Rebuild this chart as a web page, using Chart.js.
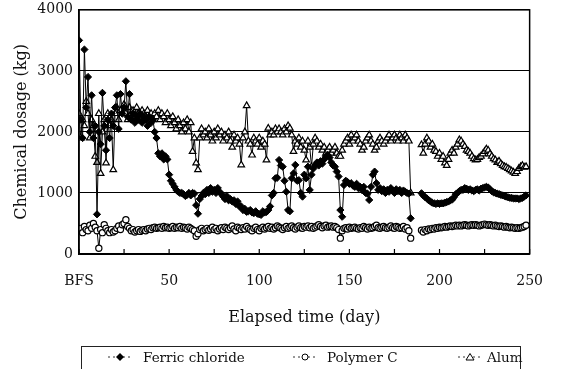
<!DOCTYPE html>
<html>
<head>
<meta charset="utf-8">
<script src="https://cdn.jsdelivr.net/npm/chart.js@4.4.0/dist/chart.umd.min.js"></script>
<style>
  html, body { margin: 0; padding: 0; background: #fff; }
  #wrap { position: relative; width: 562px; height: 369px; overflow: hidden; }
  #legend { position: absolute; left: 81px; top: 346px; width: 438px; height: 40px;
            border: 1px solid #222; font-family: 'DejaVu Serif', serif; font-size: 13.5px; color: #111; }
  #legend span, #legend svg { position: absolute; }
  #legend span { line-height: 14px; white-space: nowrap; }
</style>
</head>
<body>
<div id="wrap">
  <canvas id="myChart" width="562" height="369"></canvas>
  <div id="legend"></div>
</div>
<script>
// days 0..248, no readings for days 185-189
const days = Array.from({length: 249}, (_, i) => i);

const ferric = [
  3500, 2200, 1900, 3350, 2400, 2900, 2000, 2600, 1900, 2100,
  650, 2000, 1800, 2640, 2100, 1700, 2200, 1900, 2300, 2100,
  2400, 2600, 2050, 2620, 2300, 2400, 2830, 2250, 2620, 2200,
  2300, 2150, 2250, 2200, 2300, 2150, 2250, 2200, 2100, 2250,
  2150, 2200, 2000, 1900, 1650, 1600, 1650, 1550, 1600, 1550,
  1300, 1200, 1150, 1100, 1050, 1020, 1000, 1000, 980, 950,
  970, 1000, 960, 1000, 990, 800, 660, 900, 950, 1000,
  980, 1050, 1000, 1080, 1020, 1050, 1000, 1080, 1020, 980,
  940, 900, 950, 880, 900, 860, 880, 820, 860, 780,
  780, 720, 740, 690, 700, 720, 680, 670, 700, 660,
  650, 640, 700, 680, 690, 720, 780, 960, 1000, 1240,
  1250, 1540, 1450, 1430, 1200, 1020, 720, 700, 1240, 1320,
  1460, 1200, 1210, 1000, 940, 1300, 1240, 1430, 1050, 1300,
  1400, 1450, 1500, 1450, 1520, 1480, 1550, 1600, 1620, 1580,
  1500, 1450, 1430, 1350, 1270, 720, 610, 1130, 1200, 1180,
  1150, 1160, 1120, 1100, 1150, 1080, 1100, 1050, 1100, 1000,
  990, 885, 1100, 1300, 1350, 1160, 1050, 1080, 1030, 1060,
  1000, 1050, 1020, 1080, 1040, 1000, 1060, 1030, 1050, 1000,
  1040, 1020, 1000, 990, 585, null, null, null, null, null,
  995, 960, 930, 910, 880, 860, 840, 830, 820, 830,
  820, 830, 830, 840, 850, 860, 880, 890, 930, 980,
  1000, 1030, 1050, 1050, 1080, 1070, 1050, 1060, 1040, 1030,
  1050, 1060, 1040, 1070, 1080, 1090, 1100, 1090, 1060, 1030,
  1010, 1000, 990, 980, 970, 960, 950, 940, 930, 920,
  920, 910, 910, 910, 900, 910, 920, 940, 960
];

const polymer = [
  380, 420, 350, 450, 400, 380, 470, 420, 500, 440,
  380, 95, 400, 350, 480, 420, 380, 350, 400, 360,
  380, 420, 460, 400, 480, 500, 560, 450, 420, 380,
  400, 360, 380, 400, 370, 390, 400, 380, 410, 420,
  400, 430, 440, 420, 430, 440, 420, 450, 430, 440,
  420, 430, 450, 420, 440, 430, 450, 420, 440, 430,
  410, 440, 420, 400, 380, 290, 330, 400, 420, 380,
  400, 420, 390, 410, 440, 400, 420, 380, 410, 430,
  400, 440, 420, 400, 430, 460, 410, 380, 440, 420,
  400, 430, 410, 450, 420, 400, 380, 420, 440, 400,
  380, 420, 440, 410, 430, 450, 420, 440, 410, 430,
  460, 440, 420, 400, 430, 450, 420, 440, 460, 430,
  410, 440, 460, 430, 420, 450, 440, 460, 430, 450,
  420, 440, 460, 480, 450, 430, 460, 470, 440, 450,
  460, 440, 450, 430, 400, 260, 380, 420, 430, 410,
  440, 420, 430, 440, 420, 410, 430, 420, 450, 430,
  410, 440, 420, 430, 450, 470, 430, 420, 440, 450,
  430, 420, 440, 460, 430, 420, 450, 440, 420, 430,
  450, 410, 430, 380, 260, null, null, null, null, null,
  390, 360, 400, 380, 410, 400, 420, 410, 430, 420,
  440, 430, 440, 450, 440, 450, 460, 450, 460, 470,
  460, 470, 460, 470, 480, 470, 460, 470, 480, 470,
  480, 470, 460, 470, 480, 490, 480, 470, 480, 470,
  460, 470, 460, 450, 460, 450, 440, 450, 440, 430,
  440, 430, 420, 430, 420, 430, 440, 450, 470
];

const alum = [
  2300, 1900, 2200, 2100, 2500, 2300, 1900, 2200, 2100, 1600,
  1500, 2300, 1320, 2000, 2200, 1490, 2300, 2100, 2200, 1380,
  2300, 2400, 2200, 2350, 2300, 2450, 2300, 2200, 2400, 2300,
  2350, 2250, 2400, 2300, 2200, 2350, 2300, 2250, 2350, 2250,
  2300, 2200, 2300, 2250, 2350, 2200, 2300, 2250, 2150, 2300,
  2200, 2100, 2250, 2150, 2050, 2200, 2100, 2000, 2150, 2050,
  2200, 2000, 2150, 1680, 1900, 1490, 1380, 1900, 2050, 1950,
  2000, 1900, 2050, 1950, 1850, 2000, 1900, 2050, 1950, 2000,
  1850, 1950, 1900, 2000, 1850, 1750, 1950, 1850, 1900, 1800,
  1460, 1900, 2000, 2430, 1850, 1800, 1620, 1900, 1850, 1800,
  1900, 1750, 1850, 1800, 1540, 2060, 1950, 2000, 1950, 2050,
  2000, 2050, 2000, 1950, 2050, 2000, 2100, 2060, 1950, 1680,
  1850, 1800, 1900, 1750, 1850, 1700, 1540, 1850, 1750, 1430,
  1800, 1900, 1850, 1750, 1800, 1700, 1750, 1650, 1700, 1750,
  1650, 1700, 1750, 1650, 1600, 1600, 1700, 1800, 1850, 1900,
  1800, 1950, 1850, 1900, 1950, 1850, 1800, 1700, 1750, 1850,
  1900, 1950, 1850, 1800, 1700, 1750, 1850, 1900, 1850, 1800,
  1850, 1900, 1950, 1850, 1900, 1950, 1900, 1850, 1950, 1900,
  1850, 1950, 1900, 1850, 1000, null, null, null, null, null,
  1790, 1650, 1800, 1900, 1850, 1750, 1800, 1700, 1680, 1600,
  1650, 1550, 1600, 1490, 1450, 1550, 1650, 1700, 1650, 1750,
  1800, 1870, 1850, 1800, 1760, 1700, 1680, 1650, 1600, 1560,
  1540, 1550, 1580, 1600, 1640, 1680, 1720, 1700, 1640, 1600,
  1560, 1540, 1500, 1520, 1480, 1450, 1430, 1420, 1400, 1380,
  1360, 1340, 1320, 1350, 1400, 1430, 1450, 1420, 1430
];

const seriesNames = ['Ferric chloride', 'Polymer C', 'Alum'];
const yTicks = [0, 1000, 2000, 3000, 4000];

const serif = 'DejaVu Serif';

function points(values) {
  return values.map((v, i) => ({x: days[i], y: v}));
}

// plot frame + inward tick marks on the time axis
const framePlugin = {
  id: 'frame',
  afterDraw(chart) {
    const {ctx, chartArea: a, scales: {x}} = chart;
    ctx.save();
    ctx.strokeStyle = '#000';
    ctx.lineWidth = 1.5;
    ctx.strokeRect(a.left, a.top, a.right - a.left, a.bottom - a.top);
    ctx.lineWidth = 1.2;
    x.ticks.forEach(t => {
      const px = x.getPixelForValue(t.value);
      ctx.beginPath();
      ctx.moveTo(px, a.bottom);
      ctx.lineTo(px, a.bottom - 5);
      ctx.stroke();
    });
    ctx.restore();
  }
};

const ctx = document.getElementById('myChart');
const chart = new Chart(ctx, {
  type: 'line',
  data: {
    datasets: [{
      label: seriesNames[0],
      data: points(ferric),
      borderColor: '#000',
      borderWidth: 1,
      pointStyle: 'rectRot',
      pointRadius: 3.6,
      pointBackgroundColor: '#000',
      pointBorderColor: '#000',
      pointBorderWidth: 1
    }, {
      label: seriesNames[1],
      data: points(polymer),
      borderColor: '#000',
      borderWidth: 1,
      pointStyle: 'circle',
      pointRadius: 3.1,
      pointBackgroundColor: '#fff',
      pointBorderColor: '#000',
      pointBorderWidth: 1.2
    }, {
      label: seriesNames[2],
      data: points(alum),
      borderColor: '#000',
      borderWidth: 1,
      pointStyle: 'triangle',
      pointRadius: 3.8,
      pointBackgroundColor: '#fff',
      pointBorderColor: '#000',
      pointBorderWidth: 1.2
    }]
  },
  options: {
    responsive: false,
    animation: false,
    spanGaps: false,
    layout: {padding: {top: 2, right: 25, bottom: 42, left: 0}},
    plugins: {
      legend: {display: false},
      tooltip: {enabled: false}
    },
    scales: {
      x: {
        type: 'linear',
        min: 0,
        max: 250,
        afterFit(scale) { scale.height = 73; },
        grid: {display: false, drawTicks: false},
        border: {color: '#000', width: 1.5},
        ticks: {
          stepSize: 25,
          autoSkip: false,
          maxRotation: 0,
          padding: 19,
          color: '#111',
          font: {family: serif, size: 14},
          callback: v => v === 0 ? 'BFS' : (v % 50 === 0 ? String(v) : '')
        },
        title: {
          display: true,
          text: 'Elapsed time (day)',
          color: '#111',
          font: {family: serif, size: 16},
          padding: {top: 18, bottom: 0}
        }
      },
      y: {
        min: 0,
        max: 4000,
        afterFit(scale) { scale.width = 79; },
        afterBuildTicks(scale) { scale.ticks = yTicks.map(v => ({value: v})); },
        grid: {color: '#000', lineWidth: 1, drawTicks: false},
        border: {color: '#000', width: 1.5},
        ticks: {
          padding: 6,
          color: '#111',
          font: {family: serif, size: 14, lineHeight: 0.55},
          callback: v => String(v)
        },
        title: {
          display: true,
          text: 'Chemical dosage (kg)',
          color: '#111',
          font: {family: serif, size: 16},
          padding: {top: 12, bottom: 0}
        }
      }
    }
  },
  plugins: [framePlugin]
});

// legend box under the axis title
const markers = [
  '<polygon points="13,1 17,5 13,9 9,5" fill="#000"/>',
  '<circle cx="13" cy="5" r="3" fill="#fff" stroke="#000" stroke-width="1"/>',
  '<polygon points="13,1.5 17,8 9,8" fill="#fff" stroke="#000" stroke-width="1"/>'
];
const markerX = [120, 305, 470];
const textX = [143, 327, 487];
const legend = document.getElementById('legend');
chart.data.datasets.forEach((ds, i) => {
  const svg = '<svg width="26" height="10" style="left:' + (markerX[i] - 82 - 13) + 'px;top:5px">' +
    '<line x1="1" y1="5" x2="25" y2="5" stroke="#333" stroke-width="1" stroke-dasharray="2,3"/>' +
    markers[i] + '</svg>';
  legend.insertAdjacentHTML('beforeend', svg);
  const span = document.createElement('span');
  span.textContent = ds.label;
  span.style.left = (textX[i] - 82) + 'px';
  span.style.top = '3px';
  legend.appendChild(span);
});
</script>
</body>
</html>
